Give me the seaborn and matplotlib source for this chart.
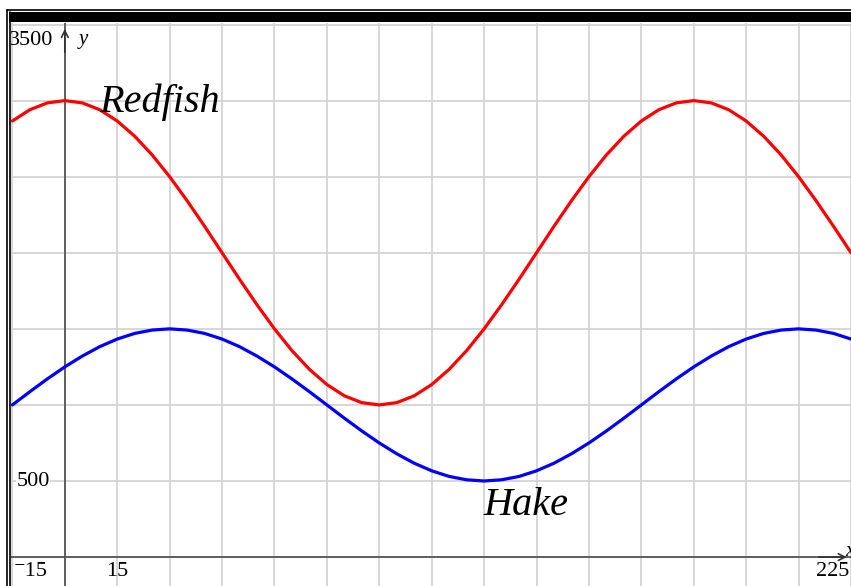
import numpy as np
import pandas as pd
import matplotlib.pyplot as plt
import seaborn as sns
from matplotlib.lines import Line2D
from matplotlib.patches import Rectangle

# values (x every 5 units)
x_vals = [-15, -10, -5, 0, 5, 10, 15, 20, 25, 30, 35, 40, 45, 50, 55, 60, 65,
          70, 75, 80, 85, 90, 95, 100, 105, 110, 115, 120, 125, 130, 135, 140,
          145, 150, 155, 160, 165, 170, 175, 180, 185, 190, 195, 200, 205, 210,
          215, 220, 225]
redfish = [2866, 2940, 2985, 3000, 2985, 2940, 2866, 2766, 2643, 2500, 2342,
           2174, 2000, 1826, 1658, 1500, 1357, 1234, 1134, 1060, 1015, 1000,
           1015, 1060, 1134, 1234, 1357, 1500, 1658, 1826, 2000, 2174, 2342,
           2500, 2643, 2766, 2866, 2940, 2985, 3000, 2985, 2940, 2866, 2766,
           2643, 2500, 2342, 2174, 2000]
hake = [1000, 1087, 1171, 1250, 1321, 1383, 1433, 1470, 1492, 1500, 1492,
        1470, 1433, 1383, 1321, 1250, 1171, 1087, 1000, 913, 829, 750, 679,
        617, 567, 530, 508, 500, 508, 530, 567, 617, 679, 750, 829, 913, 1000,
        1087, 1171, 1250, 1321, 1383, 1433, 1470, 1492, 1500, 1492, 1470, 1433]
x_ticks = list(range(-15, 226, 15))
y_ticks = list(range(0, 3501, 500))

df = pd.DataFrame({"x": x_vals, "Redfish": redfish, "Hake": hake})

sns.set_style("white")
plt.rcParams['font.family'] = ['Liberation Serif', 'DejaVu Serif']
plt.rcParams['text.color'] = 'black'

fig = plt.figure(figsize=(8.51, 5.86), dpi=100)
W, H = 851.0, 586.0
ax = fig.add_axes([11 / W, 0, (W - 11) / W, (H - 23) / H])

ax.set_xlim(-15.4, 224.6)
ax.set_ylim(-190, 3510)
ax.set_xticks(x_ticks)
ax.set_yticks(y_ticks)
ax.set_xticklabels([])
ax.set_yticklabels([])
ax.tick_params(length=0)
ax.grid(True, color="#d4d4d4", lw=1.3)
ax.set_axisbelow(True)
for s in ax.spines.values():
    s.set_visible(False)

# axes through origin
ax.axhline(0, color="#555555", lw=1.3, zorder=2)
ax.axvline(0, color="#555555", lw=1.3, zorder=2)
ax.annotate("", xy=(0, 3490), xytext=(0, 3300),
            arrowprops=dict(arrowstyle="->", color="#333333", lw=1.2,
                            mutation_scale=12), zorder=3)
ax.annotate("", xy=(224.6, 0), xytext=(215, 0),
            arrowprops=dict(arrowstyle="->", color="#333333", lw=1.2,
                            mutation_scale=12), zorder=3)

sns.lineplot(data=df, x="x", y="Redfish", color="#ff0000", lw=2.3, ax=ax, zorder=4)
sns.lineplot(data=df, x="x", y="Hake", color="#0000ff", lw=2.3, ax=ax, zorder=4)
ax.set_xlabel("")
ax.set_ylabel("")

# labels
ax.text(27, 2987, "Redfish", fontsize=29, style="italic", ha="center", va="center", zorder=5)
ax.text(132, 342, "Hake", fontsize=29, style="italic", ha="center", va="center", zorder=5)
ax.text(5.4, 3401, "y", fontsize=15, style="italic", ha="center", va="center")
ax.text(224.8, 40, "x", fontsize=15, style="italic", ha="center", va="center", clip_on=True)

tick_kw = dict(fontsize=16, va="center", clip_on=True)
ax.text(-3.4, 3395, "3500", ha="right", **tick_kw)
ax.text(-4.3, 500, "500", ha="right", bbox=dict(fc="white", ec="none", pad=0.5), **tick_kw)
ax.text(-14.8, -92, "\u207b15", ha="left", **tick_kw)
ax.text(14.9, -92, "15", ha="center", **tick_kw)
ax.text(224.6, -92, "225", ha="right", **tick_kw)

# window frame
fig.add_artist(Line2D([6.5 / W, 1], [1 - 9.5 / H, 1 - 9.5 / H], color="black", lw=1.2))
fig.add_artist(Line2D([6.5 / W, 6.5 / W], [0, 1 - 9.5 / H], color="black", lw=1.2))
fig.add_artist(Line2D([10 / W, 10 / W], [0, 1 - 12 / H], color="black", lw=1.2))
fig.add_artist(Rectangle((9 / W, 1 - 22 / H), 1, 10 / H, color="black", lw=0))

fig.savefig("out.png", dpi=100)
